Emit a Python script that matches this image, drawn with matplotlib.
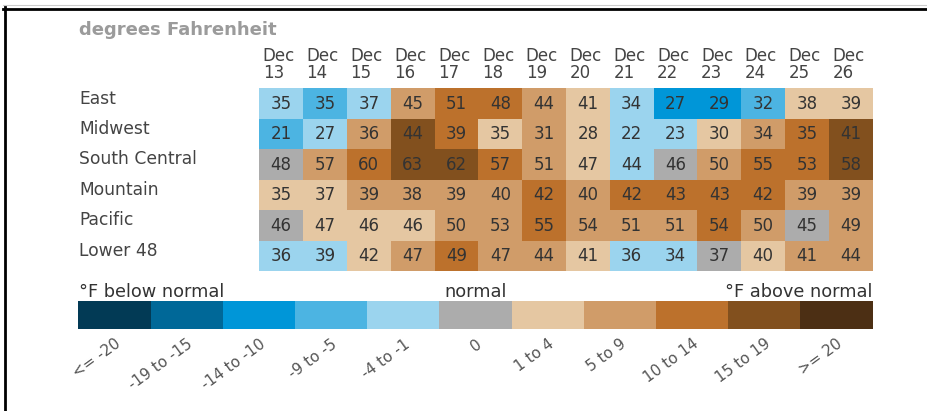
import matplotlib

matplotlib.use("Agg")
import matplotlib.pyplot as plt
import numpy as np
from matplotlib.colors import ListedColormap, BoundaryNorm
from matplotlib.lines import Line2D
from matplotlib.transforms import blended_transform_factory

# --- data -------------------------------------------------------------
days = ["13", "14", "15", "16", "17", "18", "19", "20", "21", "22", "23", "24", "25", "26"]
regions = ["East", "Midwest", "South Central", "Mountain", "Pacific", "Lower 48"]

# forecast temperatures (degrees F)
temps = [
    [35, 35, 37, 45, 51, 48, 44, 41, 34, 27, 29, 32, 38, 39],
    [21, 27, 36, 44, 39, 35, 31, 28, 22, 23, 30, 34, 35, 41],
    [48, 57, 60, 63, 62, 57, 51, 47, 44, 46, 50, 55, 53, 58],
    [35, 37, 39, 38, 39, 40, 42, 40, 42, 43, 43, 42, 39, 39],
    [46, 47, 46, 46, 50, 53, 55, 54, 51, 51, 54, 50, 45, 49],
    [36, 39, 42, 47, 49, 47, 44, 41, 36, 34, 37, 40, 41, 44],
]

# departure-from-normal class of each cell (index into class_labels)
classes = [
    [4, 3, 4, 7, 8, 8, 7, 6, 4, 2, 2, 3, 6, 6],
    [3, 4, 7, 9, 8, 6, 7, 6, 4, 4, 6, 7, 8, 9],
    [5, 7, 8, 9, 9, 8, 7, 6, 4, 5, 7, 8, 8, 9],
    [6, 6, 7, 7, 7, 7, 8, 7, 8, 8, 8, 8, 7, 7],
    [5, 6, 6, 6, 7, 7, 8, 7, 7, 7, 8, 7, 5, 7],
    [4, 4, 6, 7, 8, 7, 7, 6, 4, 4, 5, 6, 7, 7],
]

class_labels = ["<= -20", "-19 to -15", "-14 to -10", "-9 to -5", "-4 to -1", "0",
                "1 to 4", "5 to 9", "10 to 14", "15 to 19", ">= 20"]
class_colors = ["#023a55", "#006898", "#0096d8", "#4cb4e2", "#9bd4ee", "#acacac",
                "#e5c7a2", "#d09c69", "#bc712c", "#82501e", "#4c2f14"]

# --- layout helpers (pixel -> figure fraction) ------------------------
W, H = 928, 411


def fx(px):
    return px / W


def fy(py):
    return 1 - py / H


cmap = ListedColormap(class_colors)
norm = BoundaryNorm(np.arange(-0.5, len(class_colors) + 0.5), len(class_colors))

fig = plt.figure(figsize=(W / 100, H / 100), dpi=100)
fig.patch.set_facecolor("white")

# --- heatmap ----------------------------------------------------------
left, right, top, bottom = 259.3, 872.7, 88.3, 271.0
ax = fig.add_axes([fx(left), fy(bottom), (right - left) / W, (bottom - top) / H])
ax.pcolormesh(np.array(classes), cmap=cmap, norm=norm)
ax.set_xlim(0, len(days))
ax.set_ylim(len(regions), 0)
ax.axis("off")

for i in range(len(regions)):
    for j in range(len(days)):
        ax.text(j + 0.5, i + 0.5 + 0.18, str(temps[i][j]), ha="center", va="baseline",
                fontsize=12, color="#333333")

col_trans = blended_transform_factory(ax.transData, fig.transFigure)
for j, d in enumerate(days):
    ax.text(j + 0.08, fy(61), "Dec", transform=col_trans, ha="left", va="baseline",
            fontsize=12, color="#444444")
    ax.text(j + 0.08, fy(78), d, transform=col_trans, ha="left", va="baseline",
            fontsize=12, color="#444444")

row_trans = blended_transform_factory(fig.transFigure, ax.transData)
for i, r in enumerate(regions):
    ax.text(fx(79), i + 0.5, r, transform=row_trans, ha="left", va="baseline",
            fontsize=12.3, color="#444444")

fig.text(fx(79), fy(35), "degrees Fahrenheit", fontsize=13, fontweight="bold",
         color="#9b9b9b", va="baseline")

# --- legend bar -------------------------------------------------------
cl, cr, ct, cb = 78.3, 872.7, 301.0, 329.3
cax = fig.add_axes([fx(cl), fy(cb), (cr - cl) / W, (cb - ct) / H])
cax.pcolormesh(np.arange(len(class_colors)).reshape(1, -1), cmap=cmap, norm=norm)
cax.set_xlim(0, len(class_colors))
cax.set_ylim(0, 1)
cax.set_yticks([])
for s in cax.spines.values():
    s.set_visible(False)
cax.set_xticks(np.arange(len(class_labels)) + 0.5)
cax.set_xticklabels(class_labels, rotation=36, ha="right", rotation_mode="anchor",
                    fontsize=11, color="#555555")
cax.tick_params(axis="x", length=0, pad=5)

fig.text(fx(79), fy(297), "°F below normal", fontsize=12.8, color="#333333", va="baseline")
fig.text(fx((cl + cr) / 2), fy(297), "normal", fontsize=12.8, color="#333333",
         va="baseline", ha="center")
fig.text(fx(cr), fy(297), "°F above normal", fontsize=12.8, color="#333333",
         va="baseline", ha="right")

# --- frame lines ------------------------------------------------------
fig.add_artist(Line2D([fx(3), 1], [fy(5.5), fy(5.5)], transform=fig.transFigure,
                      color="#cccccc", lw=0.8))
fig.add_artist(Line2D([fx(3.3), 1], [fy(8.7), fy(8.7)], transform=fig.transFigure,
                      color="black", lw=2.0))
fig.add_artist(Line2D([fx(4.7), fx(4.7)], [fy(7.5), 0], transform=fig.transFigure,
                      color="black", lw=2.0))

fig.savefig("out.png", dpi=100)
plt.close(fig)
